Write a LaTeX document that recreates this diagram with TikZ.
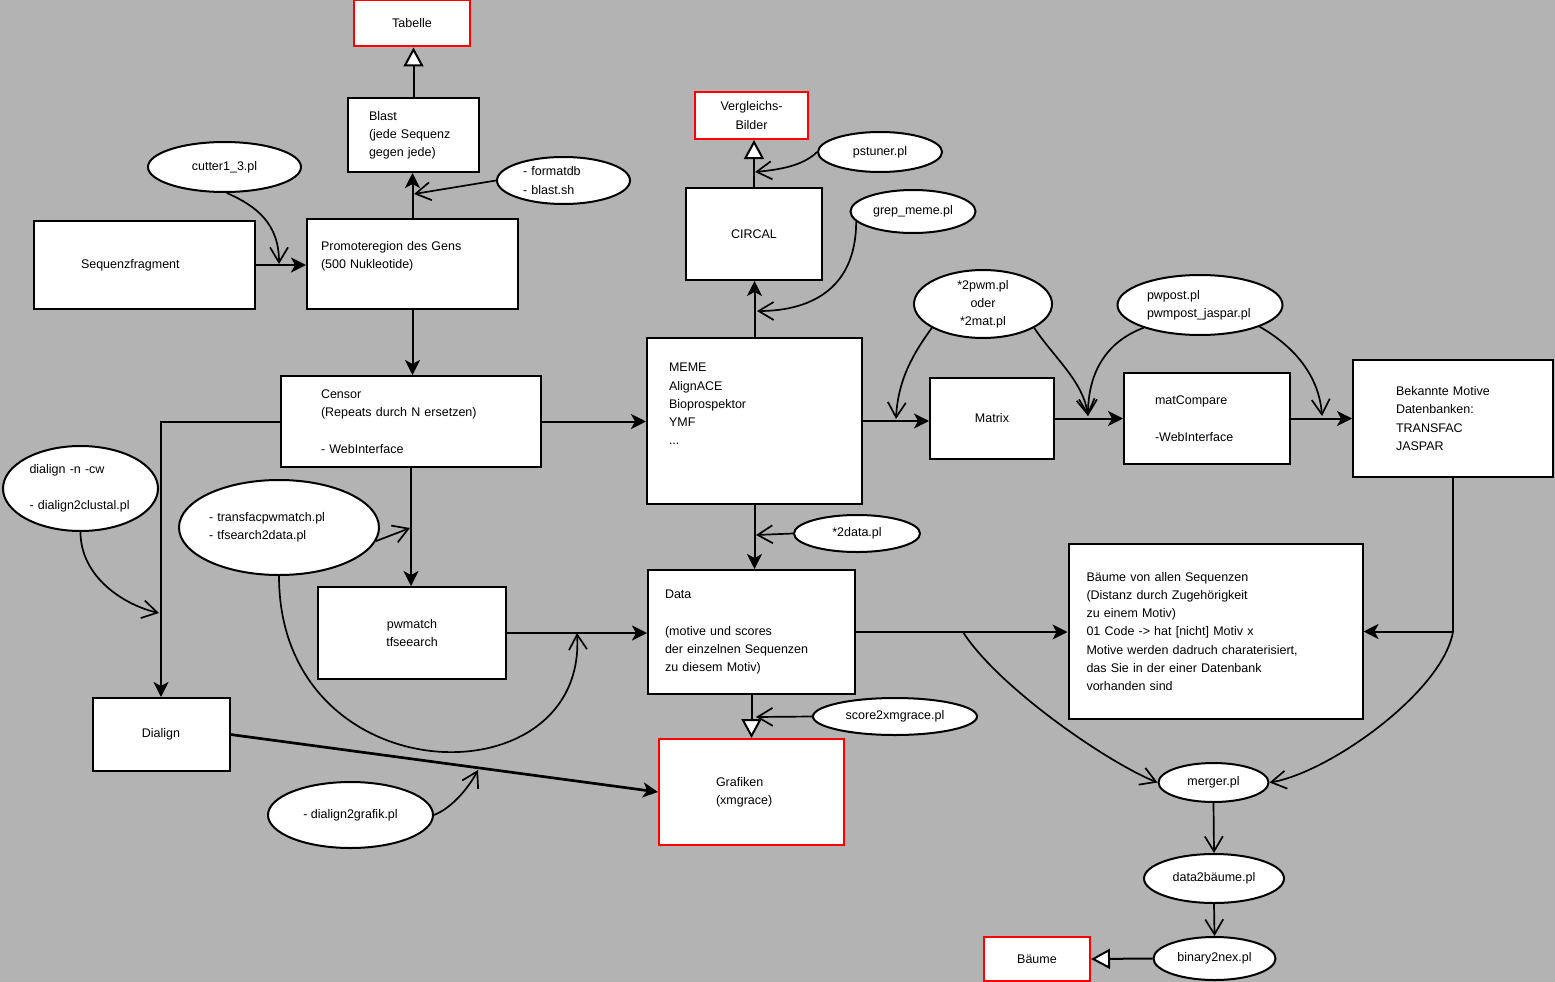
\documentclass[tikz,border=0pt]{standalone}
\usepackage{fontspec}
\setmainfont{Liberation Sans}
\usepackage{xcolor}
\usetikzlibrary{shapes.geometric,arrows.meta}
\definecolor{bggray}{RGB}{179,179,179}

\begin{document}
\begin{tikzpicture}[x = 1pt, y = -1pt,
    font = \fontsize{12.5}{18.2}\selectfont,
    box/.style = {draw, fill = white, line width = 2pt, inner sep = 0pt, align = left},
    redbox/.style = {box, draw = red},
    blob/.style = {ellipse, draw, fill = white, line width = 2pt, inner sep = 0pt, align = left},
    flow/.style = {line width = 2pt, -{Stealth[length = 15pt, width = 15pt, inset = 4pt]}},
    hint/.style = {line width = 1.7pt, -{Straight Barb[length = 15pt, width = 18pt]}},
    result/.style = {line width = 2pt, -{Triangle[fill = white, length = 19pt, width = 20pt]}}]
            \useasboundingbox (0,0) rectangle (1555,982);
            \fill[bggray] (0,0) rectangle (1555,982);

            \node[redbox, minimum width = 116pt, minimum height = 46pt, align = center] (tab) at (412,23.5) {Tabelle};
            \node[box, minimum width = 131pt, minimum height = 74pt, text width = 89pt, inner xsep = 21pt] (blast) at (413.5,135) {Blast\\(jede Sequenz\\gegen jede)};
            \node[box, minimum width = 221pt, minimum height = 88pt, text width = 127pt, inner xsep = 47pt] (seq) at (144.5,265) {Sequenzfragment};
            \node[box, minimum width = 211pt, minimum height = 90pt, text width = 183pt, inner xsep = 14pt] (promo) at (412.5,264) {Promoteregion des Gens\\(500 Nukleotide)\\\mbox{}};
            \node[box, minimum width = 260pt, minimum height = 91pt, text width = 180pt, inner xsep = 40pt] (censor) at (411,421.5) {Censor\\(Repeats durch N ersetzen)\\[18.2pt]- WebInterface};
            \node[box, minimum width = 215pt, minimum height = 166pt, text width = 171pt, inner xsep = 22pt] (meme) at (754.5,421) {MEME\\AlignACE\\Bioprospektor\\YMF\\...\\[16pt]\mbox{}};
            \node[box, minimum width = 136pt, minimum height = 92pt, align = center] (circal) at (754,234) {CIRCAL};
            \node[redbox, minimum width = 113pt, minimum height = 47pt, align = center] (vergl) at (751.5,115.5) {Vergleichs-\\Bilder};
            \node[box, minimum width = 124pt, minimum height = 81pt, align = center] (matrix) at (992,418.5) {Matrix};
            \node[box, minimum width = 166pt, minimum height = 91pt, text width = 104pt, inner xsep = 31pt] (matcomp) at (1207,418.5) {matCompare\\[18.2pt]-WebInterface};
            \node[box, minimum width = 200pt, minimum height = 117pt, text width = 114pt, inner xsep = 43pt] (known) at (1453,418.5) {Bekannte Motive\\Datenbanken:\\TRANSFAC\\JASPAR};
            \node[box, minimum width = 188pt, minimum height = 92pt, align = center] (pwmatch) at (412,633) {pwmatch\\tfseearch};
            \node[box, minimum width = 207pt, minimum height = 124pt, text width = 173pt, inner xsep = 17pt] (data) at (751.5,632) {Data\\[18.2pt](motive und scores\\der einzelnen Sequenzen\\zu diesem Motiv)};
            \node[box, minimum width = 294pt, minimum height = 175pt, text width = 258pt, inner xsep = 18pt] (trees) at (1215.5,631.5) {Bäume von allen Sequenzen\\(Distanz durch Zugehörigkeit\\zu einem Motiv)\\01 Code -> hat [nicht] Motiv x\\Motive werden dadruch charaterisiert,\\das Sie in der einer Datenbank\\vorhanden sind};
            \node[box, minimum width = 137pt, minimum height = 73pt, align = center] (dialign) at (161,734.5) {Dialign};
            \node[redbox, minimum width = 185pt, minimum height = 106pt, text width = 71pt, inner xsep = 57pt] (graf) at (751.5,792) {Grafiken\\(xmgrace)};
            \node[redbox, minimum width = 106pt, minimum height = 44pt, align = center] (trees2) at (1037,959) {Bäume};

            \node[blob, minimum width = 153pt, minimum height = 50pt, align = center] (cutter) at (224.5,167) {cutter1\_3.pl};
            \node[blob, minimum width = 133pt, minimum height = 47pt, text width = 81pt] (fmt) at (563.5,180.5) {- formatdb\\- blast.sh};
            \node[blob, minimum width = 124pt, minimum height = 40pt, align = center] (pstuner) at (880,152) {pstuner.pl};
            \node[blob, minimum width = 125pt, minimum height = 43pt, align = center] (grepmeme) at (913,211.5) {grep\_meme.pl};
            \node[blob, minimum width = 138pt, minimum height = 66pt, align = center] (topwm) at (983,304) {*2pwm.pl\\oder\\*2mat.pl};
            \node[blob, minimum width = 165pt, minimum height = 60pt, text width = 106pt] (pwpost) at (1200,305) {pwpost.pl\\pwmpost\_jaspar.pl};
            \node[blob, minimum width = 155pt, minimum height = 85pt, text width = 102pt] (dialcmd) at (80.5,488.5) {dialign -n -cw\\[18.2pt]- dialign2clustal.pl};
            \node[blob, minimum width = 200pt, minimum height = 95pt, text width = 140pt] (tfs) at (279,527.5) {- transfacpwmatch.pl\\- tfsearch2data.pl};
            \node[blob, minimum width = 126pt, minimum height = 37pt, align = center] (todata) at (857,533.5) {*2data.pl};
            \node[blob, minimum width = 164pt, minimum height = 37pt, align = center] (toxmg) at (895,716.5) {score2xmgrace.pl};
            \node[blob, minimum width = 165pt, minimum height = 66pt, align = center] (d2g) at (350.5,815) {- dialign2grafik.pl};
            \node[blob, minimum width = 110pt, minimum height = 39pt, align = center] (merger) at (1213.5,782.5) {merger.pl};
            \node[blob, minimum width = 140pt, minimum height = 49pt, align = center] (d2b) at (1214,878.5) {data2bäume.pl};
            \node[blob, minimum width = 122pt, minimum height = 43pt, align = center] (bin) at (1214.5,958.5) {binary2nex.pl};

            \coordinate (cutin) at (279,264);
            \coordinate (fmtin) at (414,194);
            \coordinate (dialin) at (159,613);
            \coordinate (tfsin) at (410,528);
            \coordinate (tfsbig) at (577,633);
            \coordinate (grepin) at (757,311);
            \coordinate (pstin) at (755,172);
            \coordinate (pwmin) at (896,419);
            \coordinate (matin) at (1088,416);
            \coordinate (knownin) at (1322,416);
            \coordinate (datain) at (756,535);
            \coordinate (xmgin) at (756,717);
            \coordinate (grafin) at (478,770);
            \coordinate (split) at (963,632);
            \coordinate (corner) at (known.south |- trees.east);

            \draw[result] (blast.north) -- (blast.north |- tab.south);
            \draw[flow] (promo.north) -- (promo.north |- blast.south);
            \draw[hint] (fmt.west) -- (fmtin);
            \draw[flow] (seq.east) -- (seq.east -| promo.west);
            \draw[hint] (cutter.-85) .. controls +(30,13) and +(0,-40) .. (cutin);
            \draw[flow] (promo.south) -- (promo.south |- censor.north);
            \draw[flow] (censor.east) -- (censor.east -| meme.west);
            \draw[flow] (censor.west) -| (dialign.north);
            \draw[hint] (dialcmd.south) .. controls +(0,45) and +(-35,-8) .. (dialin);
            \draw[flow] (censor.south) -- (censor.south |- pwmatch.north);
            \draw[hint] (tfs.-8) -- (tfsin);
            \draw[hint] (tfs.south) .. controls +(0,220) and +(10,170) .. (tfsbig);
            \draw[flow] (meme.north) -- (meme.north |- circal.south);
            \draw[hint] (grepmeme.190) .. controls +(0,70) and +(50,0) .. (grepin);
            \draw[result] (circal.north) -- (circal.north |- vergl.south);
            \draw[hint] (pstuner.west) .. controls +(-15,15) and +(20,-2) .. (pstin);
            \draw[flow] (meme.east) -- (meme.east -| matrix.west);
            \draw[hint] (topwm.205) .. controls +(-18,25) and +(2,-40) .. (pwmin);
            \draw[flow] (matrix.east) -- (matcomp.west);
            \draw[hint] (topwm.-25) .. controls +(20,30) and +(-5,-35) .. (matin);
            \draw[hint] (pwpost.202) .. controls +(-40,15) and +(0,-40) .. (matin);
            \draw[flow] (matcomp.east) -- (known.west);
            \draw[hint] (pwpost.-20) .. controls +(35,20) and +(-3,-40) .. (knownin);
            \draw[flow] (meme.south) -- (meme.south |- data.north);
            \draw[hint] (todata.west) -- (datain);
            \draw[flow, line width = 2.7pt] (pwmatch.east) -- (pwmatch.east -| data.west);
            \draw[flow] (data.east) -- (data.east -| trees.west);
            \draw[flow] (known.south) |- (trees.east);
            \draw[hint] (split) .. controls +(35,55) and +(-50,-20) .. (merger.west);
            \draw[hint] (corner) .. controls +(-10,60) and +(60,-10) .. (merger.east);
            \draw[hint] (merger.south) -- (d2b.north);
            \draw[hint] (d2b.south) -- (bin.north);
            \draw[result] (bin.west) -- (trees2.east);
            \draw[result] (data.south) -- (data.south |- graf.north);
            \draw[hint] (toxmg.west) -- (xmgin);
            \draw[flow, line width = 2.7pt] (dialign.east) -- (graf.west);
            \draw[hint] (d2g.east) .. controls +(20,-8) and +(-8,15) .. (grafin);
\end{tikzpicture}
\end{document}
